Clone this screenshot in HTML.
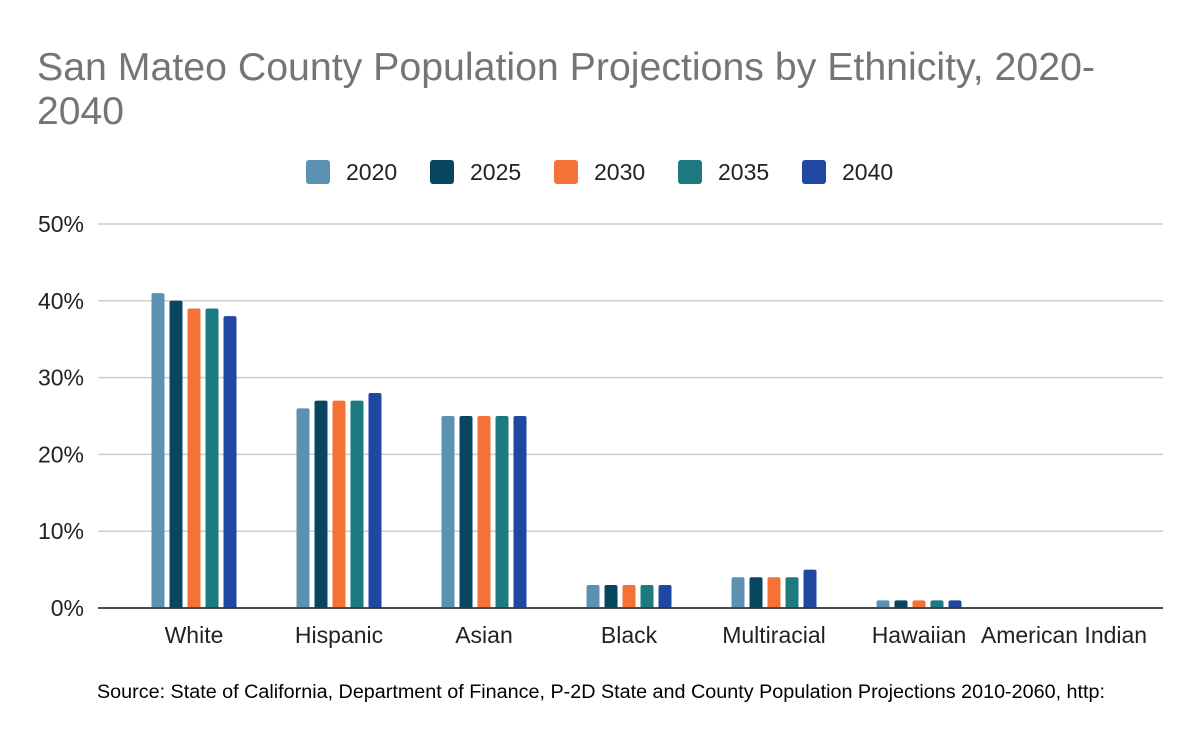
<!DOCTYPE html>
<html><head><meta charset="utf-8">
<style>
html,body{margin:0;padding:0;background:#fff;}
body{width:1200px;height:742px;overflow:hidden;font-family:"Liberation Sans",Arial,sans-serif;}
</style></head>
<body>
<svg id="chart" width="1200" height="742" xmlns="http://www.w3.org/2000/svg" font-family="Liberation Sans, Arial, sans-serif">
<text x="37" y="80" font-size="39.3" fill="#757575" textLength="1058" lengthAdjust="spacingAndGlyphs">San Mateo County Population Projections by Ethnicity, 2020-</text>
<text x="37" y="124" font-size="39.3" fill="#757575" textLength="87" lengthAdjust="spacingAndGlyphs">2040</text>
<g id="legend"></g>
<g id="grid"></g>
<g id="bars"></g>
<g id="xlabels"></g>
<text x="97" y="698" font-size="19.6" fill="#000" textLength="1008" lengthAdjust="spacingAndGlyphs">Source: State of California, Department of Finance, P-2D State and County Population Projections 2010-2060, http:</text>
</svg>
<script>
const categories = ["White","Hispanic","Asian","Black","Multiracial","Hawaiian","American Indian"];
const seriesNames = ["2020","2025","2030","2035","2040"];
const s2020 = [41,26,25,3,4,1,0];
const s2025 = [40,27,25,3,4,1,0];
const s2030 = [39,27,25,3,4,1,0];
const s2035 = [39,27,25,3,4,1,0];
const s2040 = [38,28,25,3,5,1,0];
const yTicks = [0,10,20,30,40,50];
const yTickLabels = ["0%","10%","20%","30%","40%","50%"];

const series = [s2020,s2025,s2030,s2035,s2040];
const colors = ["#5b91b1","#084660","#f47236","#1e7a81","#2148a1"];
const NS = "http://www.w3.org/2000/svg";
const y0 = 608, yTop = 224, vMax = 50;
const yScale = v => y0 - (v / vMax) * (y0 - yTop);
const catStep = 145, catStart = 194;
const xCenter = i => catStart + i * catStep;
const barW = 13, barStep = 18;
const FS = 23;
function mk(tag, attrs, parent){const e=document.createElementNS(NS,tag);for(const k in attrs)e.setAttribute(k,attrs[k]);parent.appendChild(e);return e;}

const grid = document.getElementById('grid');
yTicks.forEach((t,i)=>{
  const y = yScale(t);
  const l = mk('line',{x1:98,x2:1163,y1:y,y2:y,stroke:t===0?'#333':'#cccccc','stroke-width':1.5},grid);
  
  
  const tx = mk('text',{x:84,y:y+8,'font-size':FS,'text-anchor':'end',fill:'#222'},grid);
  tx.textContent = yTickLabels[i];
  
  
});

const bars = document.getElementById('bars');
categories.forEach((c,ci)=>{
  series.forEach((s,si)=>{
    const v = s[ci];
    if (v <= 0) return;
    const x = xCenter(ci) - (series.length*barStep - (barStep-barW))/2 + si*barStep;
    const y = yScale(v);
    const r = mk('path',{d:`M${x},${y0} V${y+2} Q${x},${y} ${x+2},${y} H${x+barW-2} Q${x+barW},${y} ${x+barW},${y+2} V${y0} Z`,fill:colors[si]},bars);
    
    
  });
});
mk('line',{x1:98,x2:1163,y1:y0,y2:y0,stroke:'#333','stroke-width':1.5},bars);

const xl = document.getElementById('xlabels');
categories.forEach((c,ci)=>{
  const t = mk('text',{x:xCenter(ci),y:643,'font-size':FS,'text-anchor':'middle',fill:'#222'},xl);
  t.textContent = c;
  
  
});

const lg = document.getElementById('legend');
const lgX = [306,430,554,678,802];
seriesNames.forEach((n,i)=>{
  const r = mk('rect',{x:lgX[i],y:160,width:24,height:24,rx:3,fill:colors[i]},lg);
  
  
  const t = mk('text',{x:lgX[i]+40,y:180,'font-size':FS,fill:'#222'},lg);
  t.textContent = n;
  
  
});
</script>
</body></html>
